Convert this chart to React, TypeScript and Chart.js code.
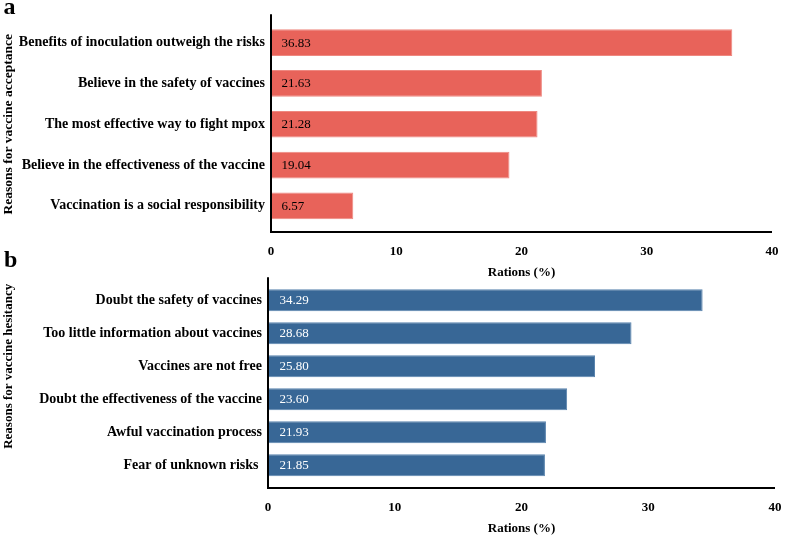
import React, { useEffect, useRef } from "react";
import { Chart, registerables } from "chart.js";

Chart.register(...registerables);

const acceptanceLabels = [
  "Benefits of inoculation outweigh the risks",
  "Believe in the safety of vaccines",
  "The most effective way to fight mpox",
  "Believe in the effectiveness of the vaccine",
  "Vaccination is a social responsibility",
];
const acceptanceValues = [36.83, 21.63, 21.28, 19.04, 6.57];

const hesitancyLabels = [
  "Doubt the safety of vaccines",
  "Too little information about vaccines",
  "Vaccines are not free",
  "Doubt the effectiveness of the vaccine",
  "Awful vaccination process",
  "Fear of unknown risks ",
];
const hesitancyValues = [34.29, 28.68, 25.8, 23.6, 21.93, 21.85];

const xMin = 0;
const xMax = 40;
const xStep = 10;

const SERIF = "'Liberation Serif', 'Times New Roman', Times, serif";

const axisLinesPlugin = {
  id: "axisLines",
  afterDatasetsDraw(chart: any, _args: any, opts: any) {
    const { ctx, chartArea } = chart;
    const top = chartArea.top - (opts.extTop || 0);
    const bottom = chartArea.bottom + (opts.extBottom || 0);
    ctx.save();
    ctx.strokeStyle = "#000";
    ctx.lineWidth = 2;
    ctx.beginPath();
    ctx.moveTo(chartArea.left, top);
    ctx.lineTo(chartArea.left, bottom);
    ctx.lineTo(chartArea.right, bottom);
    ctx.stroke();
    ctx.restore();
  },
};

const valueLabelsPlugin = {
  id: "valueLabels",
  afterDatasetsDraw(chart: any, _args: any, opts: any) {
    const { ctx } = chart;
    const meta = chart.getDatasetMeta(0);
    const data = chart.data.datasets[0].data as number[];
    ctx.save();
    ctx.font = `13px ${SERIF}`;
    ctx.fillStyle = opts.color || "#000";
    ctx.textAlign = "left";
    ctx.textBaseline = "middle";
    meta.data.forEach((el: any, i: number) => {
      ctx.fillText(Number(data[i]).toFixed(2), el.base + (opts.offset || 10), el.y + 0.5);
    });
    ctx.restore();
  },
};

function makeConfig(p: {
  labels: string[];
  values: number[];
  color: string;
  border: string;
  labelColor: string;
  labelOffset: number;
  yTitle: string;
  yTitleSize: number;
  yTitleAlign: string;
  yTitlePad: number;
  yWidth: number;
  xHeight: number;
  padding: { top: number; right: number; bottom: number; left: number };
  extTop: number;
  extBottom: number;
  barPct: number;
}): any {
  return {
    type: "bar",
    data: {
      labels: p.labels,
      datasets: [
        {
          data: p.values,
          backgroundColor: p.color,
          borderColor: p.border,
          borderWidth: 1,
          barPercentage: p.barPct,
          categoryPercentage: 1,
        },
      ],
    },
    options: {
      indexAxis: "y",
      responsive: false,
      animation: false,
      events: [],
      layout: { padding: p.padding },
      plugins: {
        legend: { display: false },
        tooltip: { enabled: false },
        axisLines: { extTop: p.extTop, extBottom: p.extBottom },
        valueLabels: { color: p.labelColor, offset: p.labelOffset },
      },
      scales: {
        x: {
          type: "linear",
          min: xMin,
          max: xMax,
          grid: { display: false, drawTicks: false },
          border: { display: false },
          ticks: {
            stepSize: xStep,
            padding: 18,
            color: "#000",
            font: { family: SERIF, size: 13, weight: "bold" },
          },
          title: {
            display: true,
            text: "Rations (%)",
            color: "#000",
            padding: { top: 0, bottom: 0 },
            font: { family: SERIF, size: 13, weight: "bold" },
          },
          afterFit(scale: any) {
            scale.height = p.xHeight;
          },
        },
        y: {
          grid: { display: false, drawTicks: false },
          border: { display: false },
          ticks: {
            padding: 6,
            color: "#000",
            autoSkip: false,
            font: { family: SERIF, size: 14, weight: "bold" },
          },
          title: {
            display: true,
            text: p.yTitle,
            color: "#000",
            align: p.yTitleAlign,
            padding: { top: p.yTitlePad, bottom: 0 },
            font: { family: SERIF, size: p.yTitleSize, weight: "bold" },
          },
          afterFit(scale: any) {
            scale.width = p.yWidth;
          },
        },
      },
    },
    plugins: [axisLinesPlugin, valueLabelsPlugin],
  };
}

export default function App() {
  const topRef = useRef<HTMLCanvasElement | null>(null);
  const bottomRef = useRef<HTMLCanvasElement | null>(null);

  useEffect(() => {
    const c1 = new Chart(
      topRef.current as HTMLCanvasElement,
      makeConfig({
        labels: acceptanceLabels,
        values: acceptanceValues,
        color: "#E8635A",
        border: "#EE8880",
        labelColor: "#000",
        labelOffset: 10.5,
        yTitle: "Reasons for vaccine acceptance",
        yTitleSize: 13.5,
        yTitleAlign: "center",
        yTitlePad: 0,
        yWidth: 271,
        xHeight: 54.6,
        padding: { top: 22.3, right: 28, bottom: 256.2, left: 0 },
        extTop: 8,
        extBottom: 5.8,
        barPct: 0.655,
      })
    );
    const c2 = new Chart(
      bottomRef.current as HTMLCanvasElement,
      makeConfig({
        labels: hesitancyLabels,
        values: hesitancyValues,
        color: "#386796",
        border: "#5A84AE",
        labelColor: "#fff",
        labelOffset: 11.5,
        yTitle: "Reasons for vaccine hesitancy",
        yTitleSize: 13,
        yTitleAlign: "end",
        yTitlePad: 1,
        yWidth: 268,
        xHeight: 54.2,
        padding: { top: 283.8, right: 25, bottom: 1, left: 0 },
        extTop: 6.5,
        extBottom: 6.2,
        barPct: 0.667,
      })
    );
    return () => {
      c1.destroy();
      c2.destroy();
    };
  }, []);

  const letterStyle: React.CSSProperties = {
    position: "absolute",
    fontFamily: SERIF,
    fontWeight: "bold",
    fontSize: 24,
    lineHeight: "24px",
    color: "#000",
    margin: 0,
  };

  return (
    <div
      style={{
        position: "fixed",
        left: 0,
        top: 0,
        width: 800,
        height: 537,
        background: "#fff",
        overflow: "hidden",
      }}
    >
      <canvas
        ref={topRef}
        width={800}
        height={537}
        style={{ position: "absolute", left: 0, top: 0, width: 800, height: 537 }}
      />
      <canvas
        ref={bottomRef}
        width={800}
        height={537}
        style={{ position: "absolute", left: 0, top: 0, width: 800, height: 537 }}
      />
      <div style={{ ...letterStyle, left: 3.5, top: -6 }}>a</div>
      <div style={{ ...letterStyle, left: 4, top: 247 }}>b</div>
    </div>
  );
}
